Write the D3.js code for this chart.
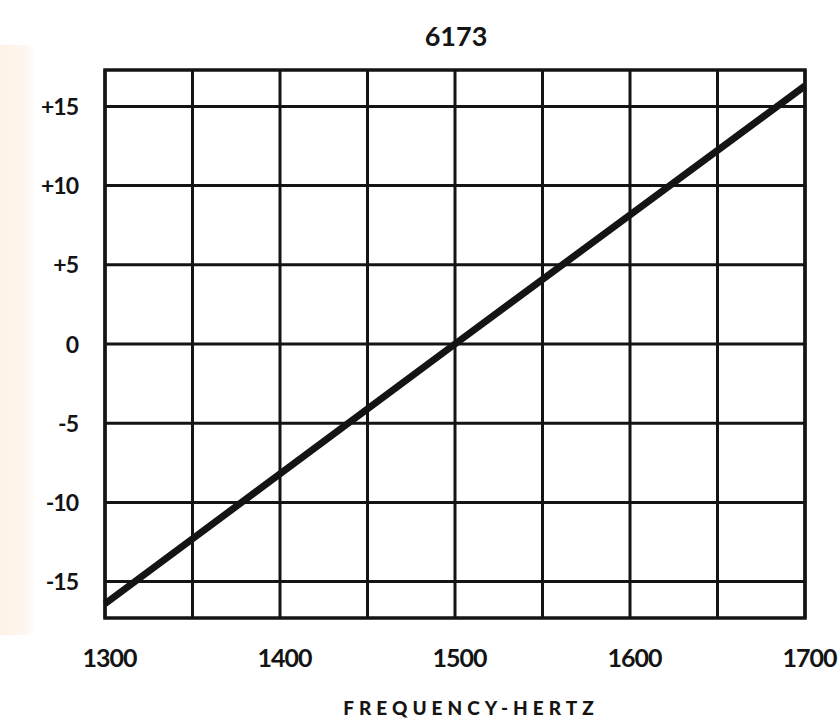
<!DOCTYPE html>
<html>
<head>
<meta charset="utf-8">
<script src="https://cdn.jsdelivr.net/npm/d3@7"></script>
<style>
  html, body { margin: 0; padding: 0; background: #fff; }
  svg { display: block; }
</style>
</head>
<body>
<svg id="chart" width="838" height="720"></svg>
<script>
// ---- data ----
const title = "6173";
const xLabel = "FREQUENCY-HERTZ";
const frequency = [1300, 1500, 1700];
const deviation = [-16.4, 0, 16.3];
const xTicks = [1300, 1400, 1500, 1600, 1700];
const xGrid = [1300, 1350, 1400, 1450, 1500, 1550, 1600, 1650, 1700];
const yTicks = [15, 10, 5, 0, -5, -10, -15];
const yTickLabels = ["+15", "+10", "+5", "0", "-5", "-10", "-15"];

// ---- layout ----
const svg = d3.select("#chart");
const plotLeft = 105, plotRight = 805, plotTop = 70, plotBottom = 618;
const x = d3.scaleLinear().domain([1300, 1700]).range([plotLeft, plotRight]);
const y = d3.scaleLinear().domain([-17.3, 17.3]).range([plotBottom, plotTop]);
const ink = "#141414";
const font = "Lato, 'DejaVu Sans', sans-serif";

// faint tinted strip on the left edge of the scan
const defs = svg.append("defs");
const grad = defs.append("linearGradient").attr("id", "tint").attr("x1", 0).attr("x2", 1);
grad.append("stop").attr("offset", "0%").attr("stop-color", "#fdf2e6");
grad.append("stop").attr("offset", "75%").attr("stop-color", "#fdf7f0");
grad.append("stop").attr("offset", "100%").attr("stop-color", "#ffffff");
svg.append("rect").attr("x", 0).attr("y", 45).attr("width", 36).attr("height", 590).attr("fill", "url(#tint)");

// grid
const g = svg.append("g");
g.selectAll("line.v").data(xGrid).join("line")
  .attr("x1", d => x(d)).attr("x2", d => x(d))
  .attr("y1", y(17.3)).attr("y2", y(-17.3))
  .attr("stroke", ink).attr("stroke-width", 3);
g.selectAll("line.h").data(yTicks).join("line")
  .attr("x1", x(1300)).attr("x2", x(1700))
  .attr("y1", d => y(d)).attr("y2", d => y(d))
  .attr("stroke", ink).attr("stroke-width", 3);
g.append("rect")
  .attr("x", x(1300)).attr("y", y(17.3))
  .attr("width", x(1700) - x(1300)).attr("height", y(-17.3) - y(17.3))
  .attr("fill", "none").attr("stroke", ink).attr("stroke-width", 3.5);

// data line
const line = d3.line().x((d, i) => x(frequency[i])).y(d => y(d));
svg.append("path").datum(deviation)
  .attr("d", line)
  .attr("fill", "none").attr("stroke", ink).attr("stroke-width", 7)
  .attr("stroke-linecap", "butt");

// y axis labels
const yAxis = d3.axisLeft(y).tickValues(yTicks)
  .tickFormat((d, i) => yTickLabels[i]).tickSize(0).tickPadding(27);
const ya = svg.append("g").attr("transform", `translate(${plotLeft},0)`).call(yAxis);
ya.select(".domain").remove();
ya.selectAll("text").attr("font-family", font).attr("font-weight", 700)
  .attr("font-size", 23).attr("fill", ink).attr("dy", "0.35em").attr("letter-spacing", -1);

// x axis labels
const xAxis = d3.axisBottom(x).tickValues(xTicks).tickFormat(d3.format("d"))
  .tickSize(0).tickPadding(31);
const xa = svg.append("g").attr("transform", `translate(4,${plotBottom})`).call(xAxis);
xa.select(".domain").remove();
xa.selectAll("text").attr("font-family", font).attr("font-weight", 700)
  .attr("font-size", 25).attr("fill", ink).attr("letter-spacing", -1);

// title
svg.append("text").attr("x", 456).attr("y", 46).attr("text-anchor", "middle")
  .attr("font-family", font).attr("font-weight", 700).attr("font-size", 27)
  .attr("fill", ink).text(title);

// x axis title
svg.append("text").attr("x", 471).attr("y", 715).attr("text-anchor", "middle")
  .attr("font-family", font).attr("font-weight", 900).attr("font-size", 19)
  .attr("letter-spacing", 5).attr("fill", ink).text(xLabel);
</script>
</body>
</html>
